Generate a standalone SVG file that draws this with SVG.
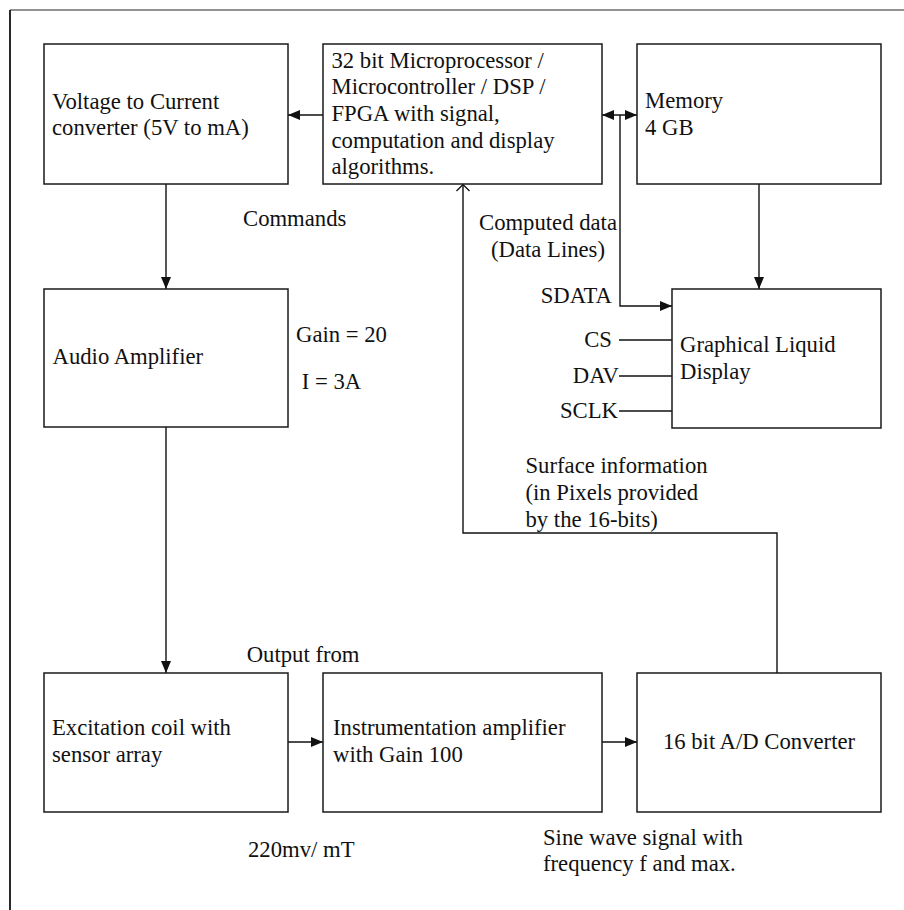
<svg xmlns="http://www.w3.org/2000/svg" width="904" height="910" viewBox="0 0 904 910">
  <style>
    .box { fill: #ffffff; stroke: #1a1a1a; stroke-width: 1.5; }
    .wire { fill: none; stroke: #111111; stroke-width: 1.4; }
    text { font-family: 'Liberation Serif', 'DejaVu Serif', serif; font-size: 22.7px; fill: #111111; }
    .end { text-anchor: end; }
    .mid { text-anchor: middle; }
  </style>
  <defs>
    <marker id="arrow" viewBox="0 0 12 10" refX="12" refY="5" markerWidth="12" markerHeight="10" markerUnits="userSpaceOnUse" orient="auto-start-reverse">
      <path d="M0,0 L12,5 L0,10 Z" fill="#111111"/>
    </marker>
    <marker id="open" viewBox="0 0 8 14" refX="7" refY="7" markerWidth="8" markerHeight="14" markerUnits="userSpaceOnUse" orient="auto">
      <path d="M0.5,0.5 L7,7 L0.5,13.5" fill="none" stroke="#111111" stroke-width="1.3"/>
    </marker>
  </defs>

  <rect width="904" height="910" fill="#ffffff"/>

  <!-- page frame: only top and left edges fall inside the sheet -->
  <line x1="10" y1="10" x2="904" y2="10" stroke="#6e6e6e" stroke-width="1.6"/>
  <line x1="10" y1="10" x2="10" y2="910" stroke="#111111" stroke-width="1.8"/>

  <g id="connectors">
    <!-- processor -> V/I converter -->
    <line class="wire" x1="323" y1="115" x2="288" y2="115" marker-end="url(#arrow)"/>
    <!-- processor <-> memory -->
    <line class="wire" x1="602" y1="115" x2="637" y2="115" marker-start="url(#arrow)" marker-end="url(#arrow)"/>
    <!-- data lines tap to display SDATA -->
    <polyline class="wire" points="620,115 620,306 672,306" marker-end="url(#arrow)"/>
    <!-- memory -> display -->
    <line class="wire" x1="759" y1="184" x2="759" y2="289" marker-end="url(#arrow)"/>
    <!-- control lines into display -->
    <line class="wire" x1="619" y1="340" x2="672" y2="340"/>
    <line class="wire" x1="619" y1="376" x2="672" y2="376"/>
    <line class="wire" x1="619" y1="411" x2="672" y2="411"/>
    <!-- V/I converter -> audio amplifier -->
    <line class="wire" x1="166" y1="184" x2="166" y2="289" marker-end="url(#arrow)"/>
    <!-- audio amplifier -> excitation coil -->
    <line class="wire" x1="166" y1="427" x2="166" y2="673" marker-end="url(#arrow)"/>
    <!-- coil -> instrumentation amplifier -->
    <line class="wire" x1="288" y1="742" x2="323" y2="742" marker-end="url(#arrow)"/>
    <!-- instrumentation amplifier -> A/D -->
    <line class="wire" x1="602" y1="742" x2="637" y2="742" marker-end="url(#arrow)"/>
    <!-- A/D -> processor feedback -->
    <polyline class="wire" points="777,673 777,533 463,533 463,184.5" marker-end="url(#open)"/>
  </g>

  <g font-family="Liberation Serif, DejaVu Serif, serif">
  <g id="vi-converter">
    <rect class="box" x="44" y="44" width="244" height="140"/>
    <text x="52" y="108.5">Voltage to Current</text>
    <text x="52" y="135">converter (5V to mA)</text>
  </g>

  <g id="processor">
    <rect class="box" x="323" y="44" width="279" height="140"/>
    <text x="331.5" y="67.5">32 bit Microprocessor /</text>
    <text x="331.5" y="94">Microcontroller / DSP /</text>
    <text x="331.5" y="120.7">FPGA with signal,</text>
    <text x="331.5" y="147.5">computation and display</text>
    <text x="331.5" y="174">algorithms.</text>
  </g>

  <g id="memory">
    <rect class="box" x="637" y="44" width="244" height="140"/>
    <text x="645" y="108">Memory</text>
    <text x="645" y="134.5">4 GB</text>
  </g>

  <g id="audio-amplifier">
    <rect class="box" x="44" y="289" width="244" height="138"/>
    <text x="52.5" y="364">Audio Amplifier</text>
  </g>

  <g id="display">
    <rect class="box" x="672" y="289" width="209" height="139"/>
    <text x="680" y="352">Graphical Liquid</text>
    <text x="680" y="378.5">Display</text>
  </g>

  <g id="excitation-coil">
    <rect class="box" x="44" y="673" width="244" height="139"/>
    <text x="52" y="735">Excitation coil with</text>
    <text x="52" y="761.5">sensor array</text>
  </g>

  <g id="instrumentation-amplifier">
    <rect class="box" x="323" y="673" width="279" height="139"/>
    <text x="333" y="735">Instrumentation amplifier</text>
    <text x="333" y="761.5">with Gain 100</text>
  </g>

  <g id="adc">
    <rect class="box" x="637" y="673" width="244" height="139"/>
    <text class="mid" x="759" y="748.5">16 bit A/D Converter</text>
  </g>

  <g id="labels">
    <text x="243" y="225.7">Commands</text>
    <text class="mid" x="548" y="230">Computed data</text>
    <text class="mid" x="548" y="256.5">(Data Lines)</text>
    <text class="end" x="612" y="303">SDATA</text>
    <text class="end" x="612" y="347">CS</text>
    <text class="end" x="619" y="383">DAV</text>
    <text class="end" x="618" y="417.5">SCLK</text>
    <text x="296" y="342.3">Gain = 20</text>
    <text x="301.7" y="389">I = 3A</text>
    <text x="525.5" y="473">Surface information</text>
    <text x="525.5" y="500">(in Pixels provided</text>
    <text x="525.5" y="526.7">by the 16-bits)</text>
    <text x="246.7" y="661.7">Output from</text>
    <text x="248" y="856.7">220mv/ mT</text>
    <text x="543" y="845">Sine wave signal with</text>
    <text x="543" y="870.7">frequency f and max.</text>
  </g>
  </g>
</svg>
